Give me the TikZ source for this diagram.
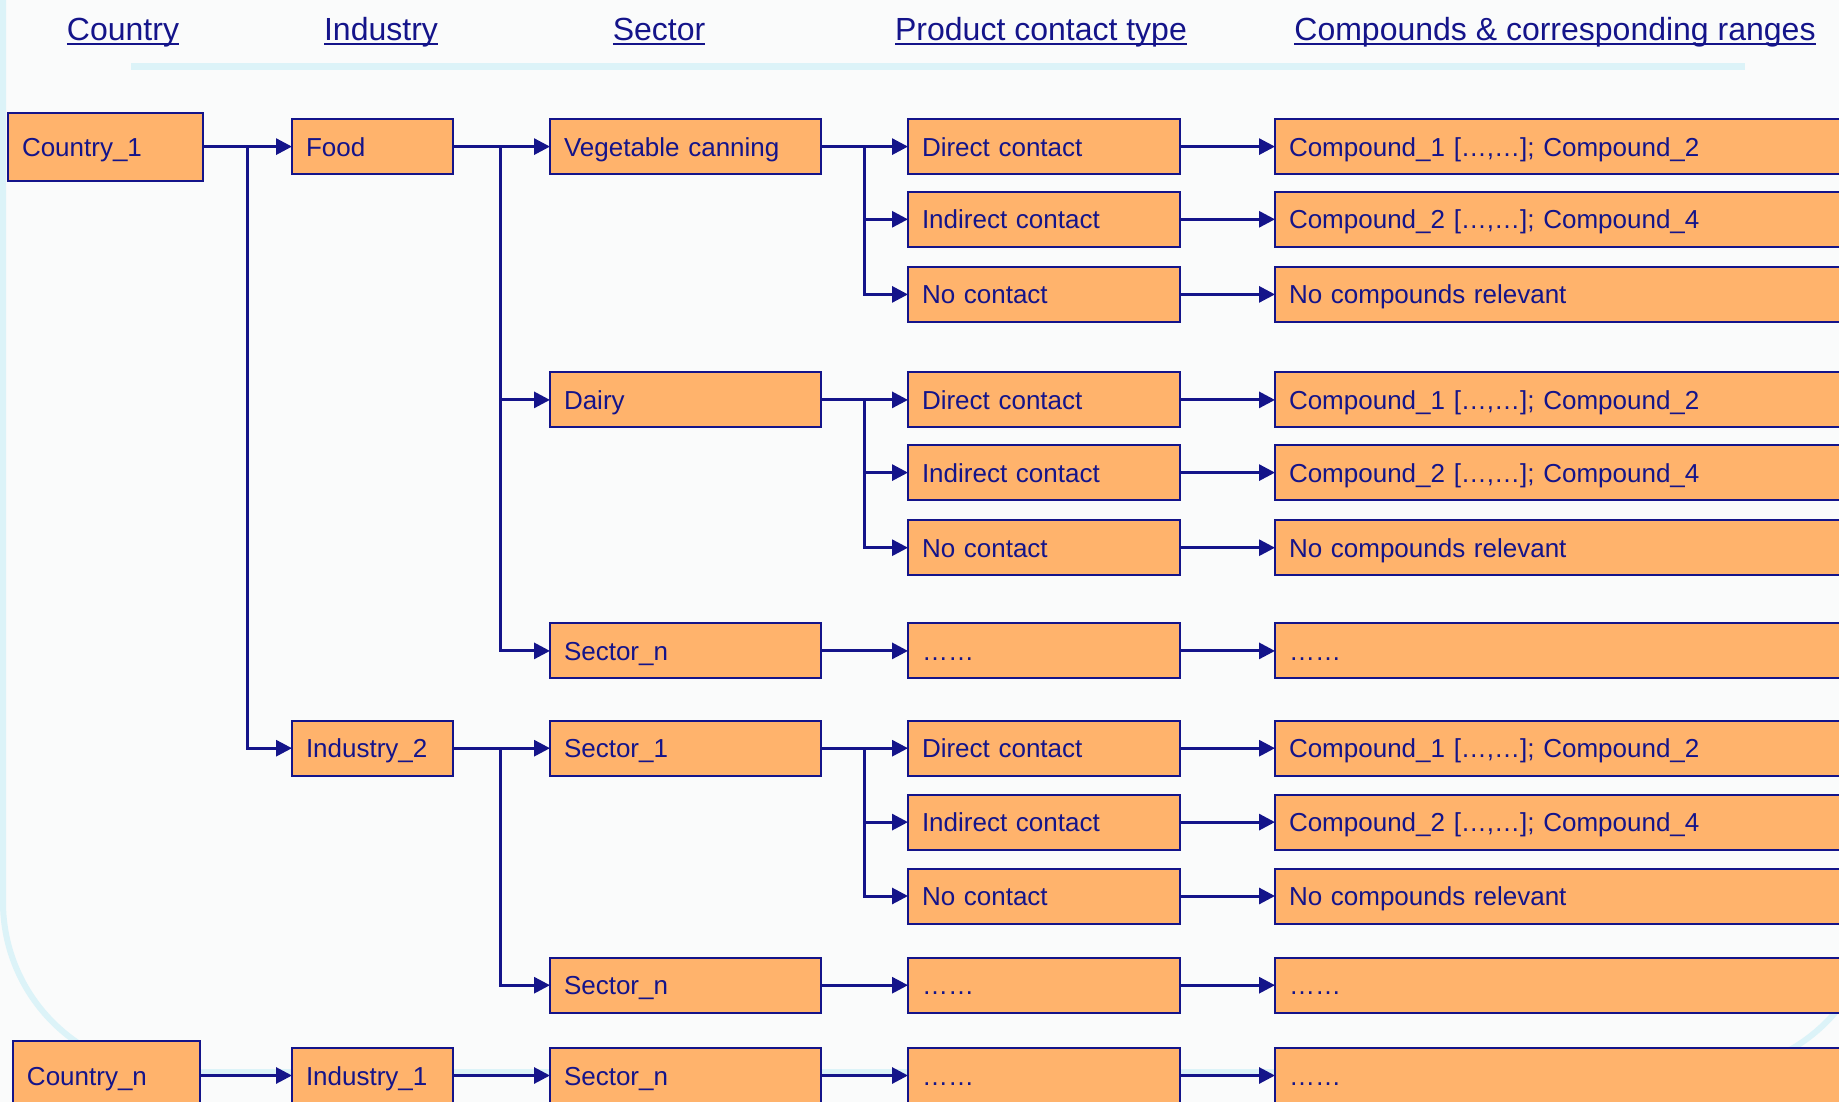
\documentclass[tikz,border=0pt]{standalone}
\usepackage{fontspec}
\setmainfont{Liberation Sans}
\usetikzlibrary{arrows.meta}
\definecolor{navy}{HTML}{14148A}
\definecolor{peach}{HTML}{FFB36C}
\definecolor{framecyan}{HTML}{DCF3F8}
\definecolor{paper}{HTML}{FAFBFB}
% underlined column heading
\newcommand\hdrline[1]{\setbox0\hbox{#1}\rlap{\rule[-5pt]{\wd0}{2.4pt}}\box0}

\begin{document}
\begin{tikzpicture}[x=1pt,y=-1pt,
  bx/.style={draw=navy, fill=peach, line width=2pt, rectangle, outer sep=0pt,
    inner xsep=14pt, inner ysep=0pt, minimum height=55pt, anchor=west,
    text height=24pt, text depth=5pt,
    align=left, text=navy, font=\fontsize{26}{30}\selectfont, text width=#1},
  hdr/.style={text=navy, font=\fontsize{32}{38}\selectfont, anchor=base, inner sep=0pt},
  link/.style={draw=navy, line width=3pt, -{Triangle[length=16pt,width=16pt]}},
]
\useasboundingbox (0,0) rectangle (1839,1102);
\clip (0,0) rectangle (1839,1102);

% page background and frame
\fill[paper] (0,0) rectangle (1839,1102);
\draw[framecyan, line width=6pt, rounded corners=170pt] (3,-300) rectangle (1876,1072);
\fill[framecyan] (131,63.5) rectangle (1745,70.5);

% column headings
\node[hdr] (hcountry) at (123,40.5) {\hdrline{Country}};
\node[hdr] (hindustry) at (381,40.5) {\hdrline{Industry}};
\node[hdr] (hsector) at (659,40.5) {\hdrline{Sector}};
\node[hdr] (hcontact) at (1041,40.5) {\hdrline{Product contact type}};
\node[hdr] (hcomp) at (1555,40.5) {\hdrline{Compounds \& corresponding ranges}};

% trunk positions
\coordinate (ta) at (247.5,0);
\coordinate (tb) at (500.8,0);
\coordinate (tc) at (864.4,0);

% countries
\node[bx=167pt, minimum height=68pt] (c1) at (8,146.6) {Country\_1};
\node[bx=159pt, minimum height=70pt] (cn) at (13,1075.5) {Country\_n};

% industries
\node[bx=133pt] (food) at (292,146.6) {Food};
\node[bx=133pt] (ind2) at (292,748.2) {Industry\_2};
\node[bx=133pt] (ind1) at (292,1075.5) {Industry\_1};

% sectors
\node[bx=243pt] (veg) at (550,146.6) {Vegetable canning};
\node[bx=243pt] (dairy) at (550,399.9) {Dairy};
\node[bx=243pt] (sna) at (550,650.9) {Sector\_n};
\node[bx=243pt] (s1) at (550,748.2) {Sector\_1};
\node[bx=243pt] (snb) at (550,985.2) {Sector\_n};
\node[bx=243pt] (snc) at (550,1075.5) {Sector\_n};

% product contact types
\node[bx=244pt] (p1) at (908,146.6) {Direct contact};
\node[bx=244pt] (p2) at (908,219.3) {Indirect contact};
\node[bx=244pt] (p3) at (908,294.4) {No contact};
\node[bx=244pt] (p4) at (908,399.9) {Direct contact};
\node[bx=244pt] (p5) at (908,472.6) {Indirect contact};
\node[bx=244pt] (p6) at (908,547.7) {No contact};
\node[bx=244pt] (p7) at (908,650.9) {……};
\node[bx=244pt] (p8) at (908,748.2) {Direct contact};
\node[bx=244pt] (p9) at (908,822.1) {Indirect contact};
\node[bx=244pt] (p10) at (908,896.0) {No contact};
\node[bx=244pt] (p11) at (908,985.2) {……};
\node[bx=244pt] (p12) at (908,1075.5) {……};

% compounds and ranges
\node[bx=582pt] (q1) at (1275,146.6) {Compound\_1 […,…]; Compound\_2};
\node[bx=582pt] (q2) at (1275,219.3) {Compound\_2 […,…]; Compound\_4};
\node[bx=582pt] (q3) at (1275,294.4) {No compounds relevant};
\node[bx=582pt] (q4) at (1275,399.9) {Compound\_1 […,…]; Compound\_2};
\node[bx=582pt] (q5) at (1275,472.6) {Compound\_2 […,…]; Compound\_4};
\node[bx=582pt] (q6) at (1275,547.7) {No compounds relevant};
\node[bx=582pt] (q7) at (1275,650.9) {……};
\node[bx=582pt] (q8) at (1275,748.2) {Compound\_1 […,…]; Compound\_2};
\node[bx=582pt] (q9) at (1275,822.1) {Compound\_2 […,…]; Compound\_4};
\node[bx=582pt] (q10) at (1275,896.0) {No compounds relevant};
\node[bx=582pt] (q11) at (1275,985.2) {……};
\node[bx=582pt] (q12) at (1275,1075.5) {……};

% country -> industry
\draw[link] (c1.east) -- (c1.east -| ta) -- (food.west);
\draw[link] (c1.east -| ta) |- (ind2.west);
\draw[link] (cn.east) -- (ind1.west);

% industry -> sector
\draw[link] (food.east) -- (food.east -| tb) -- (veg.west);
\draw[link] (food.east -| tb) |- (dairy.west);
\draw[link] (food.east -| tb) |- (sna.west);
\draw[link] (ind2.east) -- (ind2.east -| tb) -- (s1.west);
\draw[link] (ind2.east -| tb) |- (snb.west);
\draw[link] (ind1.east) -- (snc.west);

% sector -> contact type
\draw[link] (veg.east) -- (veg.east -| tc) -- (p1.west);
\draw[link] (veg.east -| tc) |- (p2.west);
\draw[link] (veg.east -| tc) |- (p3.west);
\draw[link] (dairy.east) -- (dairy.east -| tc) -- (p4.west);
\draw[link] (dairy.east -| tc) |- (p5.west);
\draw[link] (dairy.east -| tc) |- (p6.west);
\draw[link] (sna.east) -- (p7.west);
\draw[link] (s1.east) -- (s1.east -| tc) -- (p8.west);
\draw[link] (s1.east -| tc) |- (p9.west);
\draw[link] (s1.east -| tc) |- (p10.west);
\draw[link] (snb.east) -- (p11.west);
\draw[link] (snc.east) -- (p12.west);

% contact type -> compounds
\foreach \i in {1,...,12} {
  \draw[link] (p\i.east) -- (q\i.west);
}
\end{tikzpicture}
\end{document}
